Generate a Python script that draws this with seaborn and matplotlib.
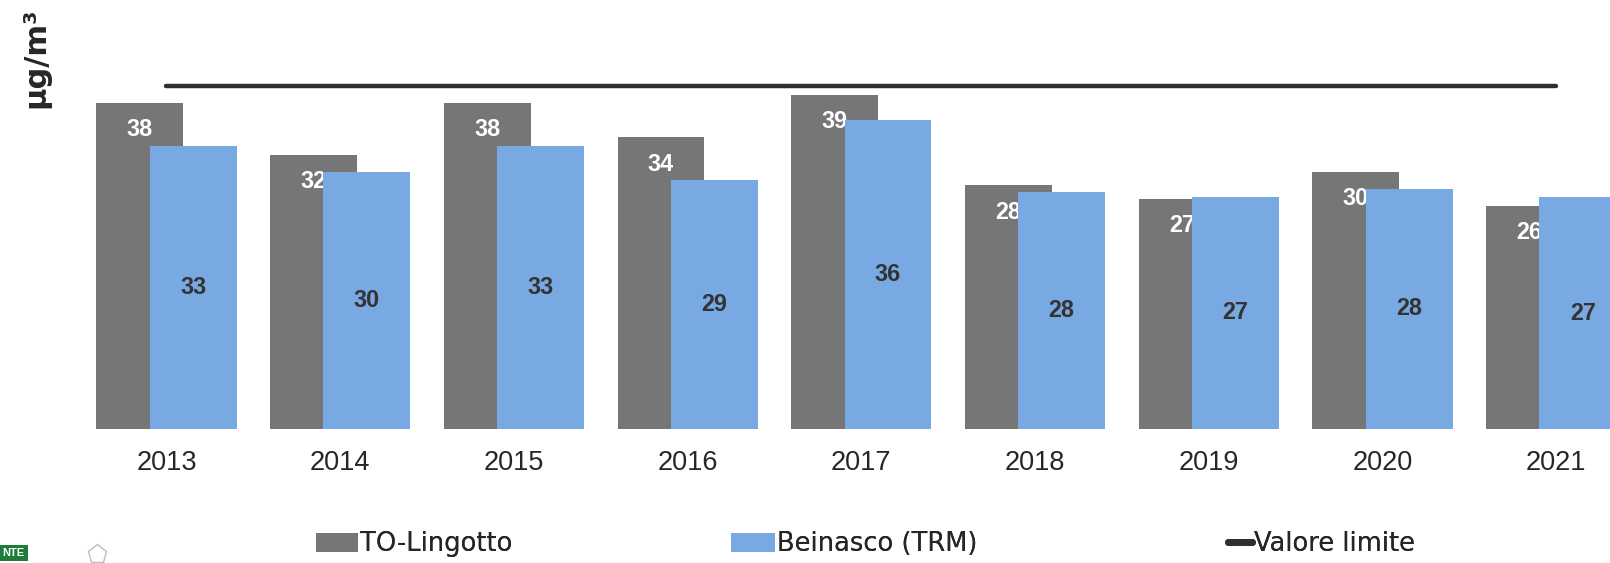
"""
PM10 annual mean: TO-Lingotto vs Beinasco (TRM), 2013-2021
"""

import pandas as pd
import matplotlib.pyplot as plt
import seaborn as sns
from matplotlib.lines import Line2D
from matplotlib.patches import Patch

# Data (labels show the rounded value)
years = ["2013", "2014", "2015", "2016", "2017", "2018", "2019", "2020", "2021"]
lingotto = [38, 32, 38, 34, 39, 28.4, 26.8, 30, 26]
beinasco = [33, 30, 33, 29, 36, 27.6, 27.1, 28, 27]
limit_value = [40] * len(years)
series_names = ["TO-Lingotto", "Beinasco (TRM)"]
limit_name = "Valore limite"

GREY = "#767676"
BLUE = "#78A9E3"
DARK = "#2f2f2f"

sns.set_style("white")
plt.rcParams["font.family"] = ["Liberation Sans", "DejaVu Sans"]

df = pd.DataFrame({
    "year": years * 2,
    "value": lingotto + beinasco,
    "station": [series_names[0]] * len(years) + [series_names[1]] * len(years),
})

fig = plt.figure(figsize=(16.1, 5.63), dpi=100)
ax = fig.add_axes([0, 0.238, 1, 0.762])

sns.barplot(
    data=df, x="year", y="value", hue="station", hue_order=series_names,
    palette=[GREY, BLUE], saturation=1, width=0.614, dodge=True,
    errorbar=None, linewidth=0, legend=False, ax=ax,
)

# widen the dodged bars so they overlap like the original
n = len(years)
for i, p in enumerate(ax.patches):
    c = p.get_x() + p.get_width() / 2
    p.set_width(0.5)
    p.set_x(c - 0.25)
    p.set_zorder(2 if i < n else 3)

# limit line
sns.lineplot(x=list(range(n)), y=limit_value, color=DARK, linewidth=3.2,
             ax=ax, zorder=4, legend=False)
for line in ax.lines:
    line.set_solid_capstyle("round")

# value labels
for i in range(n):
    ax.text(i - 0.1535, lingotto[i] - 3.1, f"{lingotto[i]:.0f}", color="white",
            fontsize=16.8, fontweight="bold", ha="center", va="center",
            zorder=2.5)
    ax.text(i + 0.1535, beinasco[i] / 2, f"{beinasco[i]:.0f}", color="#333333",
            fontsize=16.8, fontweight="bold", ha="center", va="center",
            zorder=5)

ax.set_xlim(-0.9585, 8.31)
ax.set_ylim(0, 50.03)
ax.set_xlabel("")
ax.set_ylabel("")
ax.set_yticks([])
ax.tick_params(axis="x", length=0, pad=15, labelsize=19.5, labelcolor="#262626")
sns.despine(ax=ax, left=True, bottom=True)

fig.text(36 / 1610, 1 - 58 / 563, "µg/m³", rotation=90, fontsize=22,
         fontweight="bold", family="DejaVu Sans", color="#262626",
         ha="center", va="center")

# legend, one entry at a time to keep the original spacing
handles = [
    Patch(facecolor=GREY, linewidth=0),
    Patch(facecolor=BLUE, linewidth=0),
    Line2D([0], [0], color=DARK, linewidth=5, solid_capstyle="round"),
]
labels = series_names + [limit_name]
starts = [316, 731, 1228]
lengths = [1.63, 1.72, 0.95]
for h, lab, x0, hl in zip(handles, labels, starts, lengths):
    leg = fig.legend([h], [lab], loc="center left",
                     bbox_to_anchor=(x0 / 1610, 1 - 544 / 563),
                     frameon=False, borderpad=0, borderaxespad=0,
                     handlelength=hl, handleheight=0.76, handletextpad=0.08,
                     prop={"family": "DejaVu Sans", "size": 18.5})
    for t in leg.get_texts():
        t.set_color("#262626")
    fig.add_artist(leg)

# logo remnants at the bottom-left corner
fig.text(2 / 1610, 1 - 553 / 563, "NTE", color="white", fontsize=8,
         fontweight="bold", ha="left", va="center",
         bbox=dict(facecolor="#1b7d3a", edgecolor="none", pad=2.5))
fig.add_artist(Line2D([97 / 1610], [1 - 554 / 563], marker="p", markersize=14,
                      markerfacecolor="none", markeredgecolor="#bdbdbd",
                      markeredgewidth=1, linestyle="none",
                      transform=fig.transFigure))

fig.savefig("out.png", dpi=100)
plt.close(fig)
